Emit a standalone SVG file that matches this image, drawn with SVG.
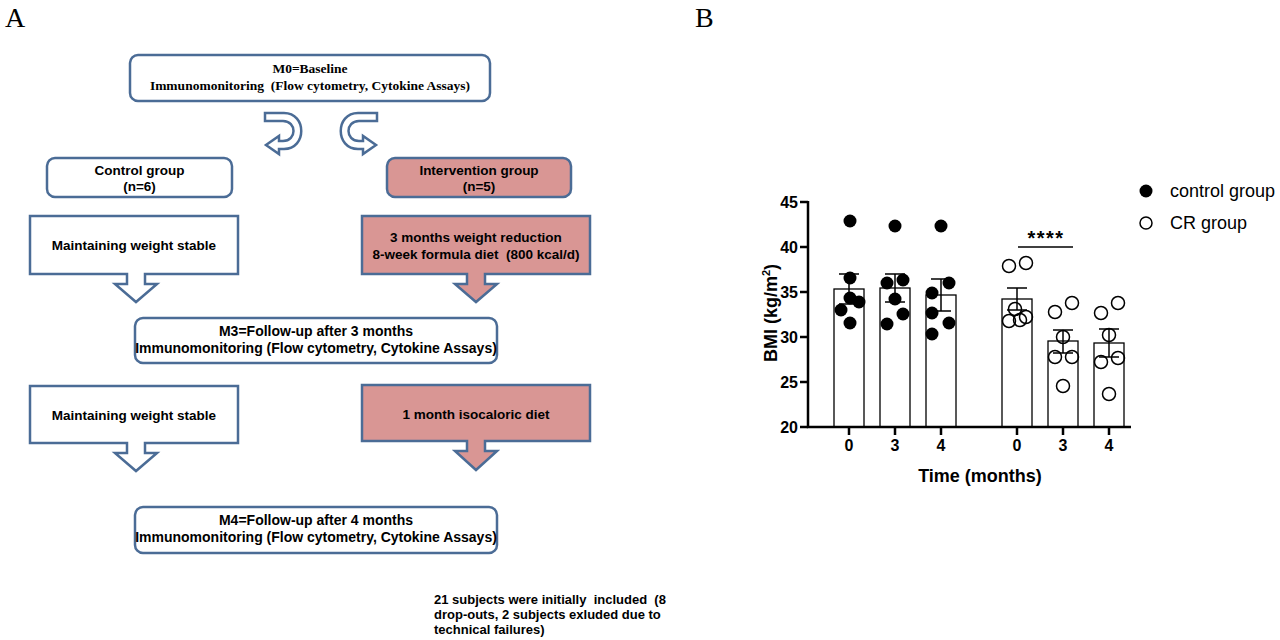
<svg xmlns="http://www.w3.org/2000/svg" width="1280" height="640" viewBox="0 0 1280 640">
<style>
.box{stroke:#4B6C96;stroke-width:2.5;fill:#fff}
.pink{fill:#D99694}
.t{font-family:"Liberation Sans",Arial,sans-serif;font-weight:bold;font-size:13.5px;fill:#000;text-anchor:middle;white-space:pre}
.t14{font-size:14px}
.ts{font-family:"Liberation Serif","Times New Roman",serif;font-weight:bold;font-size:13.5px;fill:#000;text-anchor:middle;white-space:pre}
.lab{font-family:"Liberation Serif","Times New Roman",serif;font-size:28px;fill:#000}
.ax{stroke:#000;stroke-width:2.5;fill:none}
.bar{stroke:#000;stroke-width:1.3;fill:#fff}
.eb{stroke:#000;stroke-width:1.5;fill:none}
.fp{fill:#000}
.op{fill:none;stroke:#000;stroke-width:1.5}
.tk{font-family:"Liberation Sans",Arial,sans-serif;font-weight:bold;font-size:16px;fill:#000}
.lg{font-family:"Liberation Sans",Arial,sans-serif;font-size:18px;fill:#000}
</style>
<rect width="1280" height="640" fill="#fff"/>
<text class="lab" x="5" y="27">A</text>
<text class="lab" x="695" y="27">B</text>

<g id="m0"><rect class="box" x="130" y="55" width="360" height="46" rx="8"/>
<text class="ts" x="310" y="73">M0=Baseline</text>
<text class="ts" x="310" y="90">Immunomonitoring  (Flow cytometry, Cytokine Assays)</text></g>

<g id="split-arrows">
<path class="box" d="M265 113 L284 113 C307 113 307 149 284 149 L279 149 L279 154 L266 145 L279 136 L279 141 L283 141 C297 141 297 121 283 121 L265 121 Z" stroke-width="2"/>
<path class="box" d="M265 113 L284 113 C307 113 307 149 284 149 L279 149 L279 154 L266 145 L279 136 L279 141 L283 141 C297 141 297 121 283 121 L265 121 Z" stroke-width="2" transform="translate(642,0) scale(-1,1)"/>
</g>

<g id="control"><rect class="box" x="47" y="158" width="185" height="39" rx="8"/>
<text class="t" x="139.5" y="175">Control group</text>
<text class="t" x="139.5" y="191">(n=6)</text></g>

<g id="intervention"><rect class="box pink" x="387" y="158" width="184" height="39" rx="8"/>
<text class="t" x="479" y="175">Intervention group</text>
<text class="t" x="479" y="191">(n=5)</text></g>

<g id="maint1"><path class="box" d="M30 216 H238 V274 H145 V284 H157 L136 302 L115 284 H127 V274 H30 Z"/>
<text class="t" x="134" y="250">Maintaining weight stable</text></g>

<g id="reduction"><path class="box pink" d="M362 216 H590 V274 H485 V284 H497 L476 302 L455 284 H467 V274 H362 Z"/>
<text class="t" x="476" y="242">3 months weight reduction</text>
<text class="t" x="476" y="259">8-week formula diet  (800 kcal/d)</text></g>

<g id="m3"><rect class="box" x="135" y="318" width="362" height="45" rx="8"/>
<text class="t t14" x="316" y="336">M3=Follow-up after 3 months</text>
<text class="t t14" x="316" y="353">Immunomonitoring (Flow cytometry, Cytokine Assays)</text></g>

<g id="maint2"><path class="box" d="M30 386 H238 V443 H145 V453 H157 L136 471 L115 453 H127 V443 H30 Z"/>
<text class="t" x="134" y="420">Maintaining weight stable</text></g>

<g id="isocaloric"><path class="box pink" d="M362 385 H590 V441 H485 V451 H497 L476 470 L455 451 H467 V441 H362 Z"/>
<text class="t" x="476" y="419">1 month isocaloric diet</text></g>

<g id="m4"><rect class="box" x="135" y="507" width="362" height="46" rx="8"/>
<text class="t t14" x="316" y="525">M4=Follow-up after 4 months</text>
<text class="t t14" x="316" y="542">Immunomonitoring (Flow cytometry, Cytokine Assays)</text></g>

<g id="note"><text class="t" style="text-anchor:start;font-size:13px" x="434" y="604">21 subjects were initially  included  (8</text>
<text class="t" style="text-anchor:start;font-size:13px" x="434" y="619">drop-outs, 2 subjects exluded due to</text>
<text class="t" style="text-anchor:start;font-size:13px" x="434" y="634">technical failures)</text></g>

<g id="chart">
<g id="bars">
<rect class="bar" x="834" y="289" width="30" height="138"/>
<rect class="bar" x="880" y="288" width="30" height="139"/>
<rect class="bar" x="926" y="295" width="30" height="132"/>
<rect class="bar" x="1002" y="299" width="30" height="128"/>
<rect class="bar" x="1048" y="341" width="30" height="86"/>
<rect class="bar" x="1094" y="343" width="30" height="84"/>
</g>
<g id="errorbars" class="eb">
<path d="M849 274 V304 M839 274 H859 M839 304 H859"/>
<path d="M895 274 V302 M885 274 H905 M885 302 H905"/>
<path d="M941 279 V311 M931 279 H951 M931 311 H951"/>
<path d="M1017 288 V310 M1007 288 H1027 M1007 310 H1027"/>
<path d="M1063 330 V353 M1053 330 H1073 M1053 353 H1073"/>
<path d="M1109 329 V357 M1099 329 H1119 M1099 357 H1119"/>
</g>
<g id="axes">
<path class="ax" d="M808 201 V427 H1131"/>
<path class="ax" d="M800 202 H808 M800 247 H808 M800 292 H808 M800 337 H808 M800 382 H808 M800 427 H808"/>
<path class="ax" d="M849 427 V435 M895 427 V435 M941 427 V435 M1017 427 V435 M1063 427 V435 M1109 427 V435"/>
</g>
<g class="tk" text-anchor="end">
<text x="798" y="208">45</text><text x="798" y="253">40</text><text x="798" y="298">35</text>
<text x="798" y="343">30</text><text x="798" y="388">25</text><text x="798" y="433">20</text>
</g>
<g class="tk" text-anchor="middle">
<text x="849" y="451">0</text><text x="895" y="451">3</text><text x="941" y="451">4</text>
<text x="1017" y="451">0</text><text x="1063" y="451">3</text><text x="1109" y="451">4</text>
</g>
<text class="tk" style="font-size:18px" x="980" y="482" text-anchor="middle">Time (months)</text>
<text class="tk" style="font-size:18px" transform="translate(777,313) rotate(-90)" text-anchor="middle">BMI (kg/m<tspan dy="-7" font-size="11">2</tspan><tspan dy="7">)</tspan></text>
<g id="control-points" class="fp">
<circle cx="850" cy="221" r="6.5"/><circle cx="850" cy="278" r="6.5"/><circle cx="850" cy="298" r="6.5"/>
<circle cx="859" cy="302" r="6.5"/><circle cx="841" cy="310" r="6.5"/><circle cx="850" cy="323" r="6.5"/>
<circle cx="895" cy="226" r="6.5"/><circle cx="887" cy="283" r="6.5"/><circle cx="903" cy="280" r="6.5"/>
<circle cx="895" cy="299" r="6.5"/><circle cx="887" cy="324" r="6.5"/><circle cx="903" cy="314" r="6.5"/>
<circle cx="941" cy="226" r="6.5"/><circle cx="932" cy="293" r="6.5"/><circle cx="949" cy="283" r="6.5"/>
<circle cx="932" cy="313" r="6.5"/><circle cx="949" cy="323" r="6.5"/><circle cx="932" cy="334" r="6.5"/>
</g>
<g id="cr-points" class="op">
<circle cx="1009" cy="266" r="6.5"/><circle cx="1026" cy="263" r="6.5"/><circle cx="1015" cy="309" r="6.5"/>
<circle cx="1009" cy="321" r="6.5"/><circle cx="1020" cy="320" r="6.5"/><circle cx="1026" cy="317" r="6.5"/>
<circle cx="1055" cy="312" r="6.5"/><circle cx="1072" cy="303" r="6.5"/><circle cx="1063" cy="337" r="6.5"/>
<circle cx="1055" cy="357" r="6.5"/><circle cx="1072" cy="357" r="6.5"/><circle cx="1063" cy="386" r="6.5"/>
<circle cx="1101" cy="313" r="6.5"/><circle cx="1118" cy="303" r="6.5"/><circle cx="1109" cy="335" r="6.5"/>
<circle cx="1101" cy="362" r="6.5"/><circle cx="1118" cy="358" r="6.5"/><circle cx="1109" cy="394" r="6.5"/>
</g>
<g id="significance">
<path class="eb" d="M1018 247 H1073"/>
<text class="tk" style="font-size:20px;letter-spacing:1.5px" x="1046" y="245" text-anchor="middle">****</text>
</g>
<g id="legend">
<circle class="fp" cx="1146" cy="191" r="6.5"/>
<text class="lg" x="1170" y="197">control group</text>
<circle class="op" cx="1146" cy="223" r="6"/>
<text class="lg" x="1170" y="229">CR group</text>
</g>
</g>
</svg>
